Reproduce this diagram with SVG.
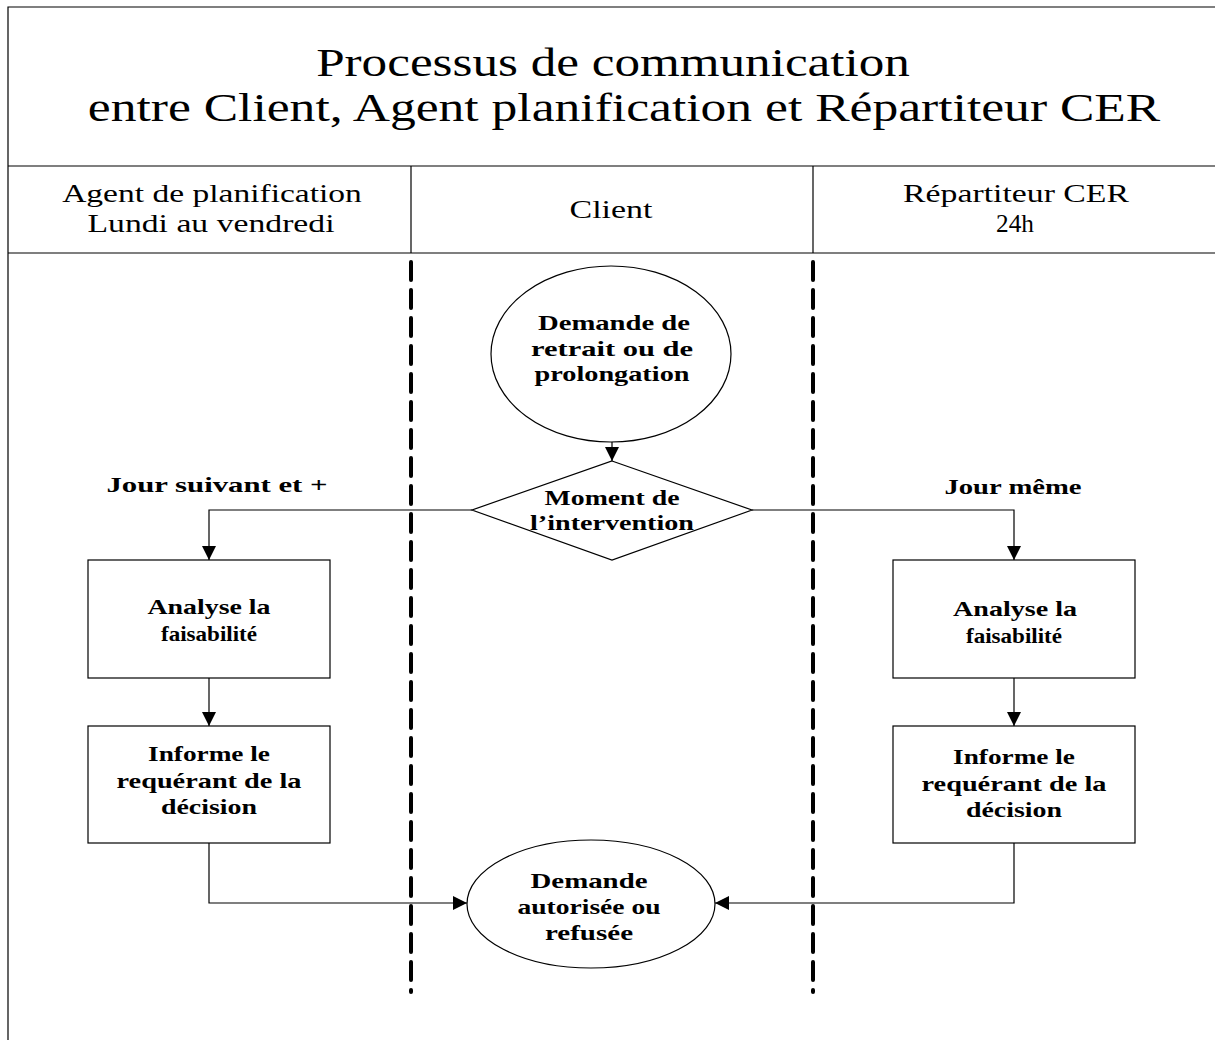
<svg xmlns="http://www.w3.org/2000/svg" width="1215" height="1040" viewBox="0 0 1215 1040">
<style>
.ln{fill:none;stroke:#000;stroke-width:1.2}
.nd{fill:#fff;stroke:#000;stroke-width:1.2}
.dash{fill:none;stroke:#000;stroke-width:4;stroke-dasharray:18 10;stroke-linecap:round}
.t{font-family:"Liberation Serif","Times New Roman",serif;text-anchor:middle;fill:#000}
.title{font-size:41px}
.hd{font-size:25px}
.b{font-size:21px;font-weight:bold}
</style>
<defs>
<marker id="ah" viewBox="0 0 10 10" refX="10" refY="5" markerWidth="14" markerHeight="14" markerUnits="userSpaceOnUse" orient="auto">
<path d="M0,0 L10,5 L0,10 z" fill="#000"/>
</marker>
</defs>
<rect x="0" y="0" width="1215" height="1040" fill="#fff"/>
<g id="frame">
<path class="ln" d="M8,1040 V7 H1215"/>
<line class="ln" x1="8" y1="166" x2="1215" y2="166"/>
<line class="ln" x1="8" y1="253" x2="1215" y2="253"/>
<line class="ln" x1="411" y1="166" x2="411" y2="253"/>
<line class="ln" x1="813" y1="166" x2="813" y2="253"/>
<text class="t title" transform="translate(613,76) scale(1.25,1)" textLength="475" lengthAdjust="spacingAndGlyphs">Processus de communication</text>
<text class="t title" transform="translate(624,121) scale(1.25,1)" textLength="858" lengthAdjust="spacingAndGlyphs">entre Client, Agent planification et Répartiteur CER</text>
<text class="t hd" transform="translate(212,202) scale(1.35,1)" textLength="222" lengthAdjust="spacingAndGlyphs">Agent de planification</text>
<text class="t hd" transform="translate(211,232) scale(1.35,1)" textLength="183" lengthAdjust="spacingAndGlyphs">Lundi au vendredi</text>
<text class="t hd" transform="translate(611,218) scale(1.35,1)" textLength="61.5" lengthAdjust="spacingAndGlyphs">Client</text>
<text class="t hd" transform="translate(1016,202) scale(1.35,1)" textLength="167.4" lengthAdjust="spacingAndGlyphs">Répartiteur CER</text>
<text class="t hd" transform="translate(1015,232) scale(1.35,1)" textLength="28.1" lengthAdjust="spacingAndGlyphs">24h</text>
</g>
<g id="lanes">
<line class="dash" x1="411" y1="262" x2="411" y2="992"/>
<line class="dash" x1="813" y1="262" x2="813" y2="992"/>
</g>
<g id="connectors">
<line class="ln" x1="612" y1="432" x2="612" y2="461" marker-end="url(#ah)"/>
<path class="ln" d="M472,510 H209 V560" marker-end="url(#ah)"/>
<path class="ln" d="M752,510 H1014 V560" marker-end="url(#ah)"/>
<line class="ln" x1="209" y1="678" x2="209" y2="726" marker-end="url(#ah)"/>
<line class="ln" x1="1014" y1="678" x2="1014" y2="726" marker-end="url(#ah)"/>
<path class="ln" d="M209,843 V903 H467" marker-end="url(#ah)"/>
<path class="ln" d="M1014,843 V903 H715" marker-end="url(#ah)"/>
<text class="t b" transform="translate(217,492) scale(1.4,1)" textLength="157.9" lengthAdjust="spacingAndGlyphs">Jour suivant et +</text>
<text class="t b" transform="translate(1013,494) scale(1.4,1)" textLength="97.9" lengthAdjust="spacingAndGlyphs">Jour même</text>
</g>
<g id="start">
<ellipse class="nd" cx="611" cy="354" rx="120" ry="88"/>
<text class="t b" transform="translate(614,330) scale(1.4,1)" textLength="108.6" lengthAdjust="spacingAndGlyphs">Demande de</text>
<text class="t b" transform="translate(612,356) scale(1.4,1)" textLength="115.7" lengthAdjust="spacingAndGlyphs">retrait ou de</text>
<text class="t b" transform="translate(612,381) scale(1.4,1)" textLength="110.7" lengthAdjust="spacingAndGlyphs">prolongation</text>
</g>
<g id="decision">
<polygon class="nd" points="612,461 752,510 612,560 472,510"/>
<text class="t b" transform="translate(612,505) scale(1.4,1)" textLength="96.4" lengthAdjust="spacingAndGlyphs">Moment de</text>
<text class="t b" transform="translate(612,530) scale(1.4,1)" textLength="117.1" lengthAdjust="spacingAndGlyphs">l’intervention</text>
</g>
<g id="analyse-left">
<rect class="nd" x="88" y="560" width="242" height="118"/>
<text class="t b" transform="translate(209,614) scale(1.4,1)" textLength="87.9" lengthAdjust="spacingAndGlyphs">Analyse la</text>
<text class="t b" transform="translate(209,641) scale(1.4,1)" textLength="68.6" lengthAdjust="spacingAndGlyphs">faisabilité</text>
</g>
<g id="informe-left">
<rect class="nd" x="88" y="726" width="242" height="117"/>
<text class="t b" transform="translate(209,761) scale(1.4,1)" textLength="87.1" lengthAdjust="spacingAndGlyphs">Informe le</text>
<text class="t b" transform="translate(209,788) scale(1.4,1)" textLength="132.1" lengthAdjust="spacingAndGlyphs">requérant de la</text>
<text class="t b" transform="translate(209,814) scale(1.4,1)" textLength="68.6" lengthAdjust="spacingAndGlyphs">décision</text>
</g>
<g id="analyse-right">
<rect class="nd" x="893" y="560" width="242" height="118"/>
<text class="t b" transform="translate(1015,616) scale(1.4,1)" textLength="88.6" lengthAdjust="spacingAndGlyphs">Analyse la</text>
<text class="t b" transform="translate(1014,643) scale(1.4,1)" textLength="68.6" lengthAdjust="spacingAndGlyphs">faisabilité</text>
</g>
<g id="informe-right">
<rect class="nd" x="893" y="726" width="242" height="117"/>
<text class="t b" transform="translate(1014,764) scale(1.4,1)" textLength="87.1" lengthAdjust="spacingAndGlyphs">Informe le</text>
<text class="t b" transform="translate(1014,791) scale(1.4,1)" textLength="132.1" lengthAdjust="spacingAndGlyphs">requérant de la</text>
<text class="t b" transform="translate(1014,817) scale(1.4,1)" textLength="68.6" lengthAdjust="spacingAndGlyphs">décision</text>
</g>
<g id="end">
<ellipse class="nd" cx="591" cy="904" rx="124" ry="64"/>
<text class="t b" transform="translate(589,888) scale(1.4,1)" textLength="83.6" lengthAdjust="spacingAndGlyphs">Demande</text>
<text class="t b" transform="translate(589,914) scale(1.4,1)" textLength="102.1" lengthAdjust="spacingAndGlyphs">autorisée ou</text>
<text class="t b" transform="translate(589,940) scale(1.4,1)" textLength="62.9" lengthAdjust="spacingAndGlyphs">refusée</text>
</g>
</svg>
